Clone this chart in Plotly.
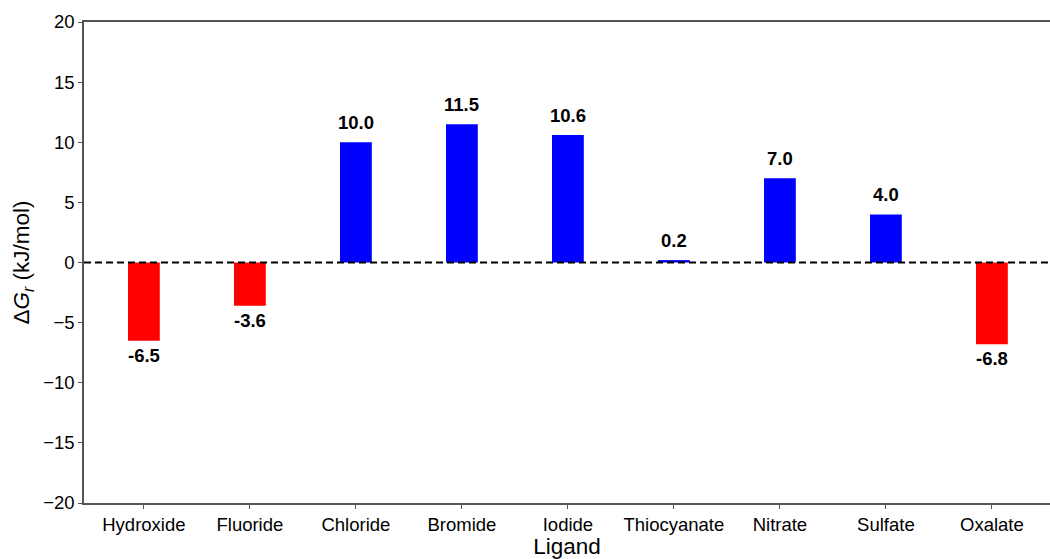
import plotly.graph_objects as go

# Ligand reaction free energies
ligands = ["Hydroxide", "Fluoride", "Chloride", "Bromide", "Iodide",
           "Thiocyanate", "Nitrate", "Sulfate", "Oxalate"]
delta_g = [-6.5, -3.6, 10.0, 11.5, 10.6, 0.2, 7.0, 4.0, -6.8]
y_ticks = [-20, -15, -10, -5, 0, 5, 10, 15, 20]

x_pos = list(range(len(ligands)))
colors = ["#0000ff" if v > 0 else "#ff0000" for v in delta_g]

fig = go.Figure()
fig.add_trace(go.Bar(
    x=x_pos, y=delta_g, width=0.3,
    marker=dict(color=colors, line=dict(width=0)),
    showlegend=False,
))

# value labels above positive bars, below negative bars
for xp, v in zip(x_pos, delta_g):
    fig.add_annotation(
        x=xp, y=v, text=f"<b>{v:.1f}</b>", showarrow=False,
        yanchor="bottom" if v > 0 else "top",
        yshift=7 if v > 0 else -2,
        font=dict(family="Liberation Sans, Arial", size=18.5, color="black"),
    )

# zero reference line
fig.add_shape(type="line", xref="paper", x0=0, x1=1, yref="y", y0=0, y1=0,
              line=dict(color="black", width=2, dash="7px,4px"))

tick_font = dict(family="Liberation Sans, Arial", size=18.5, color="black")
title_font = dict(family="Liberation Sans, Arial", size=22.5, color="black")
fig.update_layout(
    width=1050, height=559,
    margin=dict(l=84, r=0, t=22, b=56),
    plot_bgcolor="white", paper_bgcolor="white",
    xaxis=dict(
        range=[-0.565, 8.548], tickmode="array", tickvals=x_pos, ticktext=ligands,
        showline=True, linecolor="#555", linewidth=1.5, mirror=True,
        ticks="outside", ticklen=4, tickcolor="#555", tickwidth=1.2,
        tickfont=tick_font, showgrid=False, zeroline=False,
        title=dict(text="Ligand", font=title_font, standoff=1),
    ),
    yaxis=dict(
        range=[-20, 20], tickmode="array", tickvals=y_ticks,
        showline=True, linecolor="#555", linewidth=1.5,
        ticks="outside", ticklen=4, tickcolor="#555", tickwidth=1.2,
        tickfont=tick_font, showgrid=False, zeroline=False,
        title=dict(text="Δ<i>G<sub>r</sub></i> (kJ/mol)", font=title_font, standoff=7),
    ),
)

fig.write_html("out.html")
